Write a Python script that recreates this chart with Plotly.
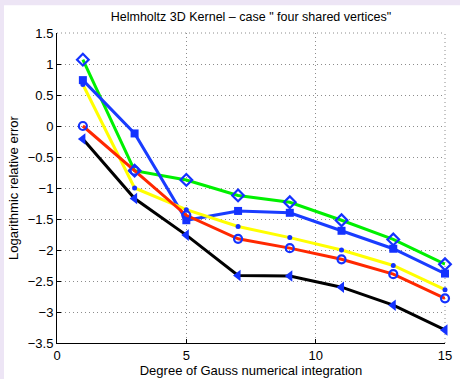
import plotly.graph_objects as go

degrees = [1, 3, 5, 7, 9, 11, 13, 15]
green_vals = [1.07, -0.72, -0.87, -1.12, -1.23, -1.52, -1.83, -2.23]
blue_vals = [0.74, -0.12, -1.52, -1.37, -1.40, -1.69, -1.98, -2.38]
yellow_vals = [0.67, -1.00, -1.35, -1.62, -1.80, -2.00, -2.25, -2.64]
red_vals = [0.00, -0.72, -1.44, -1.82, -1.97, -2.15, -2.39, -2.78]
black_vals = [-0.21, -1.17, -1.76, -2.41, -2.42, -2.60, -2.89, -3.29]

title_text = 'Helmholtz 3D Kernel \u2013 case " four shared vertices"'
x_title = "Degree of Gauss numerical integration"
y_title = "Logarithmic relative error"

MB = "rgb(20,50,255)"
series = [
    (green_vals, "rgb(0,240,0)", dict(symbol="diamond-open", size=9, color=MB, line=dict(width=2.2, color=MB))),
    (blue_vals, "rgb(25,60,255)", dict(symbol="square", size=8, color=MB, line=dict(width=0))),
    (yellow_vals, "rgb(255,255,0)", dict(symbol="circle", size=5, color=MB, line=dict(width=0))),
    (red_vals, "rgb(255,40,0)", dict(symbol="circle-open", size=8, color=MB, line=dict(width=2.2, color=MB))),
    (black_vals, "black", dict(symbol="triangle-left", size=10, color=MB, line=dict(width=0))),
]

fig = go.Figure()
for vals, lc, mk in series:
    fig.add_trace(go.Scatter(x=degrees, y=vals, mode="lines+markers",
                             line=dict(color=lc, width=3), marker=mk,
                             showlegend=False, cliponaxis=False))

GRID = "rgb(140,140,140)"
DASH = "1px,3px"
font = "Liberation Sans, Arial, Helvetica, sans-serif"
fig.update_layout(
    width=460, height=379,
    margin=dict(l=57, r=7.5, t=33, b=34),
    paper_bgcolor="rgb(237,229,245)",
    plot_bgcolor="white",
    font=dict(family=font, size=13, color="black"),
    title=dict(text=title_text, x=0.5, xanchor="center", y=0.955, yanchor="middle",
               xref="paper", font=dict(size=12.5)),
    shapes=[
        dict(type="rect", xref="paper", yref="paper", x0=-54/395.5, x1=1.05,
             y0=-0.2, y1=1 + 28/311.7, fillcolor="white", line=dict(width=0), layer="below"),
        dict(type="line", xref="paper", yref="paper", x0=0, x1=1, y0=1, y1=1,
             line=dict(color=GRID, width=1, dash=DASH), layer="below"),
        dict(type="line", xref="paper", yref="paper", x0=1, x1=1, y0=0, y1=1,
             line=dict(color=GRID, width=1, dash=DASH), layer="below"),
    ],
)
fig.update_xaxes(range=[0, 15], dtick=5, tick0=0, showline=True, linecolor="black", linewidth=1,
                 ticks="inside", ticklen=4, tickcolor="black", showgrid=True, gridcolor=GRID,
                 griddash=DASH, gridwidth=1, zeroline=False, mirror=False,
                 title=dict(text=x_title, standoff=0, font=dict(size=13)), tickfont=dict(size=13))
fig.update_yaxes(range=[-3.5, 1.5], dtick=0.5, tick0=0, showline=True, linecolor="black", linewidth=1,
                 ticks="inside", ticklen=4, tickcolor="black", showgrid=True, gridcolor=GRID,
                 griddash=DASH, gridwidth=1, zeroline=False,
                 title=dict(text=y_title, standoff=6, font=dict(size=13)), tickfont=dict(size=13))

fig.write_html("out.html")
